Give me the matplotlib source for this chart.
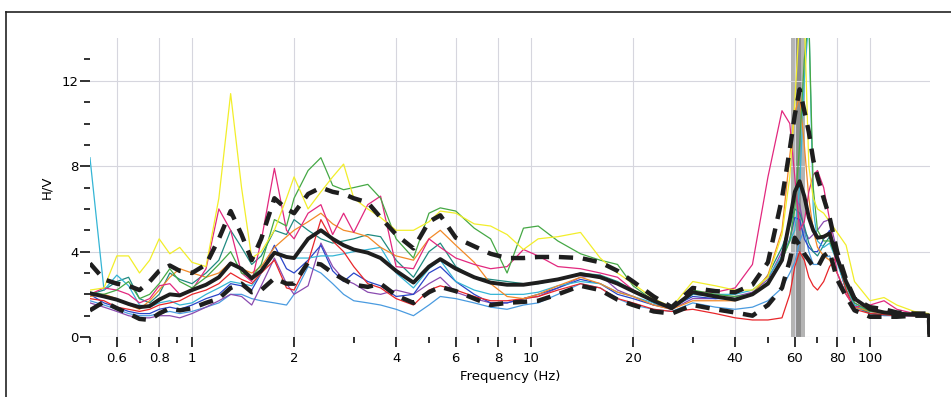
from matplotlib import pyplot as plt
from matplotlib.lines import Line2D
from matplotlib.ticker import FixedLocator, NullFormatter
import numpy as np

# frequency samples (Hz) shared by every curve
freq = [0.5, 0.55, 0.6, 0.65, 0.7, 0.75, 0.8, 0.86, 0.92, 1.0,
        1.1, 1.2, 1.3, 1.4, 1.5, 1.6, 1.75, 1.9, 2.0, 2.2,
        2.4, 2.6, 2.8, 3.0, 3.3, 3.6, 4.0, 4.5, 5.0, 5.4,
        6.0, 6.8, 7.6, 8.5, 9.5, 10.5, 12, 14, 16, 18,
        20, 23, 26, 30, 35, 40, 45, 50, 55, 58,
        60, 62, 64, 66, 68, 70, 73, 76, 80, 85,
        90, 100, 110, 120, 135, 149]

hv_mean = [2.05, 1.9, 1.75, 1.55, 1.4, 1.45, 1.75, 2.0, 1.95, 2.2,
           2.45, 2.8, 3.45, 3.2, 2.75, 3.1, 3.95, 3.75, 3.7, 4.6,
           5.0, 4.6, 4.3, 4.1, 3.95, 3.7, 3.1, 2.55, 3.3, 3.65,
           3.2, 2.8, 2.55, 2.45, 2.45, 2.55, 2.7, 2.95, 2.8, 2.5,
           2.15, 1.7, 1.35, 2.1, 1.9, 1.75, 2.0, 2.5, 3.6, 5.5,
           6.8, 7.3, 6.6, 5.6, 5.0, 4.65, 4.7, 4.85, 3.7, 2.6,
           1.8, 1.3, 1.15, 1.1, 1.05, 1.0]
hv_upper = [3.45, 2.7, 2.5, 2.4, 2.2, 2.6, 3.1, 3.35, 3.1, 3.0,
            3.4, 4.6, 5.9, 4.8, 3.6, 4.6, 6.5, 6.0, 5.8, 6.7,
            7.0, 6.8, 6.7, 6.5, 6.3, 5.6, 4.8, 4.15, 5.4, 5.7,
            4.65, 4.25, 3.9, 3.7, 3.7, 3.75, 3.75, 3.7, 3.5, 3.1,
            2.6, 1.9, 1.4, 2.3, 2.15, 2.1, 2.45, 3.5, 6.5, 8.8,
            10.4, 11.6, 10.6, 9.6, 8.3, 7.5, 6.5, 5.6, 4.0, 2.7,
            1.8, 1.4, 1.3, 1.15, 1.1, 1.1]
hv_lower = [1.25, 1.65, 1.35, 1.1, 0.85, 0.8, 1.1, 1.35, 1.25, 1.35,
            1.6, 1.8, 2.3, 2.5, 2.1, 2.2, 2.75, 2.5, 2.5, 3.5,
            3.4, 3.0, 2.7, 2.45, 2.35, 2.5, 1.95, 1.6, 2.1, 2.35,
            2.15, 1.8, 1.5, 1.6, 1.65, 1.7, 2.0, 2.4, 2.2, 1.75,
            1.5, 1.2, 1.1, 1.5, 1.3, 1.15, 1.0, 1.5, 2.3, 3.6,
            4.65, 4.3, 3.9, 3.6, 3.3, 3.25, 3.8, 4.0, 2.7, 1.9,
            1.25, 0.95, 0.95, 0.95, 1.0, 1.0]

hv_yellow = [2.2, 2.3, 3.8, 3.8, 3.0, 3.6, 4.6, 3.9, 4.2, 3.5,
             3.3, 6.5, 11.4, 7.0, 3.7, 4.0, 5.0, 6.5, 7.5, 6.0,
             6.8, 7.5, 8.1, 6.5, 6.0, 5.6, 5.0, 5.0, 5.4, 5.9,
             5.8, 5.3, 5.2, 4.8, 4.1, 4.6, 4.7, 4.9, 3.7, 3.0,
             2.5, 1.8, 1.4, 2.6, 2.4, 2.2, 2.2, 2.8, 4.8, 7.5,
             11.0, 15.0, 15.0, 8.0, 6.5, 6.0, 5.8, 5.4, 4.9, 4.3,
             2.6, 1.7, 1.85, 1.5, 1.2, 1.1]
hv_green = [2.1, 2.0, 2.2, 2.6, 1.8, 2.0, 2.5, 3.2, 2.6, 2.3,
            2.8, 3.4, 4.0, 3.0, 2.8, 3.4, 5.5, 5.2, 6.5, 7.8,
            8.4, 7.1, 6.9, 7.0, 7.15, 6.5, 4.6, 3.7, 5.8, 6.05,
            5.9, 5.1, 4.6, 3.0, 5.1, 5.2, 4.5, 3.9, 3.6, 3.4,
            2.4, 1.7, 1.3, 2.2, 2.0, 1.9, 2.0, 2.6, 3.6, 4.5,
            6.0, 9.0, 13.0, 15.0, 7.0, 5.0, 4.5, 4.5, 3.6, 2.4,
            1.6, 1.2, 1.2, 1.1, 1.05, 1.0]
hv_magenta = [2.0, 2.3, 2.2, 2.0, 1.6, 1.8, 2.4, 2.5, 2.0, 2.2,
              3.2, 6.0, 5.0, 3.0, 2.6, 4.5, 7.9, 5.0, 4.6, 5.8,
              6.2, 4.8, 5.8, 4.9, 6.2, 6.6, 3.3, 3.2, 4.6, 4.2,
              3.7, 3.4, 3.2, 3.3, 4.1, 3.8, 3.3, 3.2, 3.0, 2.8,
              2.2, 1.7, 1.3, 2.1, 2.1, 2.3, 3.4, 7.5, 10.6, 10.0,
              7.5, 5.0, 5.4, 6.8, 7.6, 7.8, 7.0, 5.5, 3.0, 2.0,
              1.4, 1.5, 1.7, 1.3, 1.1, 1.0]
hv_red = [1.8, 1.7, 1.4, 1.3, 1.2, 1.3, 1.5, 1.6, 1.7, 2.0,
          2.2, 2.5, 3.0, 2.7, 2.5, 3.0, 3.6, 2.3, 2.2, 3.5,
          5.5, 4.5, 4.0, 3.3, 2.5, 2.3, 1.8, 1.5, 2.2, 2.4,
          2.2, 1.9, 1.7, 1.7, 1.8, 1.9, 2.2, 2.5, 2.3, 1.8,
          1.6, 1.3, 1.2, 1.3, 1.1, 0.9, 0.8, 0.8, 0.9, 2.0,
          3.3, 4.0, 3.6, 2.8, 2.4, 2.2, 2.6, 3.3, 3.8, 2.2,
          1.3, 1.1, 1.05, 1.0, 1.0, 1.0]
hv_orange = [1.9, 2.0, 1.8, 1.5, 1.3, 1.7, 2.2, 2.8, 3.2, 3.0,
             2.8, 3.0, 3.5, 3.2, 3.0, 3.3, 4.2, 4.7, 5.0, 5.4,
             5.8, 5.3, 5.0, 4.9, 4.7, 4.2, 3.8, 3.6, 4.6, 5.0,
             4.3, 3.5, 2.5, 1.9, 1.8, 2.0, 2.4, 2.8, 2.5, 2.1,
             1.9, 1.5, 1.3, 1.7, 1.7, 1.7, 2.0, 2.9, 5.0, 8.5,
             10.5, 11.3, 9.0, 6.5, 5.0, 4.2, 3.8, 3.6, 3.0, 2.0,
             1.4, 1.2, 1.1, 1.1, 1.0, 1.0]
hv_blue = [2.0, 1.6, 1.4, 1.2, 1.1, 1.1, 1.3, 1.4, 1.3, 1.5,
           1.8, 2.0, 2.5, 2.4, 2.2, 3.0, 4.3, 3.2, 3.0, 3.6,
           4.3, 3.1, 2.6, 3.0, 2.6, 2.4, 1.9, 2.0, 3.0, 3.3,
           2.6, 2.0, 1.6, 1.6, 1.8, 2.0, 2.3, 2.7, 2.5, 2.0,
           1.8, 1.5, 1.4, 1.9, 1.8, 1.8, 2.0, 2.5, 3.6, 4.6,
           5.6, 5.5, 4.6, 4.2, 4.0, 4.0, 4.6, 5.0, 3.6, 2.2,
           1.5, 1.1, 1.05, 1.0, 1.0, 1.0]
hv_ltblue = [1.7, 1.5, 1.3, 1.1, 1.0, 1.0, 1.1, 1.2, 1.1, 1.2,
             1.4, 1.6, 2.0, 2.0, 1.8, 1.7, 1.6, 1.5, 2.0, 3.3,
             3.0, 2.5, 2.0, 1.7, 1.6, 1.5, 1.3, 1.0, 1.5, 1.9,
             1.8, 1.6, 1.4, 1.3, 1.5, 1.6, 2.0, 2.5, 2.3, 1.8,
             1.5, 1.3, 1.2, 1.6, 1.4, 1.3, 1.4, 1.7, 2.3, 3.0,
             3.5, 4.5, 5.0, 4.0, 3.4, 3.4, 3.7, 3.8, 3.0, 2.0,
             1.4, 1.1, 1.0, 1.0, 1.0, 1.0]
hv_cyan = [8.4, 2.2, 2.9, 2.4, 1.5, 1.4, 1.6, 1.7, 1.5, 1.6,
           2.0, 2.3, 2.6, 2.5, 2.4, 3.0, 4.0, 3.8, 3.7, 3.7,
           3.8, 3.8, 3.9, 4.0, 4.1, 4.2, 3.0, 2.3, 3.2, 3.6,
           2.6, 2.2, 2.0, 2.0, 2.0, 2.1, 2.4, 2.6, 2.5, 2.1,
           1.9, 1.6, 1.4, 2.0, 2.0, 2.0, 2.2, 2.8, 3.8, 4.5,
           5.0, 7.0, 12.0, 15.0, 6.0, 4.5, 4.2, 4.4, 3.5, 2.2,
           1.5, 1.2, 1.1, 1.05, 1.0, 1.0]
hv_teal = [2.0, 2.2, 2.6, 2.8, 1.8, 1.6, 2.0, 3.0, 2.7, 2.5,
           3.0, 3.6, 5.0, 4.2, 3.4, 3.8, 5.0, 4.8, 5.5, 5.0,
           4.6, 4.4, 4.5, 4.6, 4.8, 4.7, 3.6, 2.8, 4.0, 4.4,
           3.3, 2.8, 2.7, 2.6, 2.5, 2.5, 2.7, 3.0, 2.9, 2.6,
           2.2, 1.6, 1.3, 2.0, 1.9, 1.8, 2.0, 2.9, 4.2, 5.2,
           6.0, 5.8, 5.2, 4.4, 4.0, 3.8, 4.3, 4.7, 3.6, 2.2,
           1.5, 1.1, 1.05, 1.0, 1.0, 1.0]
hv_purple = [1.6, 1.4, 1.2, 1.0, 0.9, 0.9, 1.0, 1.0, 0.9, 1.1,
             1.4, 1.7, 2.0, 1.9, 1.5, 2.4, 3.7, 2.5, 2.0, 2.4,
             4.4, 3.3, 2.7, 2.5, 2.1, 2.0, 2.2, 2.0, 2.5, 2.8,
             2.1, 1.8, 1.6, 1.6, 1.8, 1.9, 2.3, 2.8, 2.9, 2.2,
             1.9, 1.5, 1.3, 1.8, 1.8, 1.9, 2.1, 2.7, 4.0, 5.5,
             6.5, 6.2, 5.0, 4.6, 4.8, 5.0, 5.4, 5.5, 4.0, 2.4,
             1.6, 1.2, 1.1, 1.0, 1.0, 1.0]

windows = [(hv_ltblue, '#4a9be0'), (hv_purple, '#8a4bb0'), (hv_blue, '#2a45c8'),
           (hv_teal, '#1f8a80'), (hv_cyan, '#35b5d5'), (hv_red, '#e8262a'),
           (hv_orange, '#f28a28'), (hv_magenta, '#e2287e'), (hv_green, '#45a845'),
           (hv_yellow, '#f2ee2a')]

band_lo, band_hi = 58.5, 64.5          # f0 +- std band
core_lo, core_hi = 60.5, 62.5

xmajor = [0.6, 0.8, 1, 2, 4, 6, 8, 10, 20, 40, 60, 80, 100]
xminor = [0.5, 0.7, 0.9, 3, 5, 7, 9, 30, 50, 70, 90]

fig = plt.figure(figsize=(9.51, 3.97), dpi=100)
ax = fig.add_axes([0.0946, 0.151, 0.883, 0.753])

ax.axvspan(band_lo, band_hi, color='#b4b4b4', zorder=1, lw=0)
ax.axvspan(core_lo, core_hi, color='#8c8c8c', zorder=1, lw=0)

for vals, col in windows:
    ax.plot(freq, vals, color=col, lw=0.9, zorder=2)

f_end = freq + [150]
ax.plot(f_end, hv_mean + [0], color='#1e1e1e', lw=2.8, zorder=4)
ax.plot(f_end, hv_upper + [0], color='#1e1e1e', lw=3.2, ls=(0, (3.2, 2.2)), zorder=4)
ax.plot(f_end, hv_lower + [0], color='#1e1e1e', lw=3.2, ls=(0, (3.2, 2.2)), zorder=4)

ax.set_xscale('log')
ax.set_xlim(0.5, 150)
ax.set_ylim(0, 14)

ax.xaxis.set_major_locator(FixedLocator(xmajor))
ax.xaxis.set_minor_locator(FixedLocator(xminor))
ax.xaxis.set_minor_formatter(NullFormatter())
ax.set_xticklabels(['0.6', '0.8', '1', '2', '4', '6', '8', '10', '20', '40', '60', '80', '100'])
ax.set_yticks([0, 4, 8, 12])
ax.set_yticks(np.arange(0, 14), minor=True)

ax.tick_params(which='major', length=7, width=1.3, labelsize=9.5, color='#222222')
ax.tick_params(which='minor', length=4, width=1.3, color='#222222')
ax.tick_params(axis='y', which='both', pad=1)

ax.grid(True, which='major', color='#d6d6de', lw=0.8, zorder=0)
for s in ax.spines.values():
    s.set_visible(False)
ax.axhline(0, color='#cfcfd6', lw=0.8, zorder=0)

ax.set_xlabel('Frequency (Hz)', fontsize=9.5, labelpad=4)
ax.set_ylabel('H/V', fontsize=9.5, labelpad=6)

# page frame from the scanned report
fig.add_artist(Line2D([0.0063, 0.0063], [0.0, 0.97], color='#222222', lw=1.2))
fig.add_artist(Line2D([0.0063, 1.0], [0.97, 0.97], color='#222222', lw=1.2))

plt.savefig('out.png', dpi=100)
